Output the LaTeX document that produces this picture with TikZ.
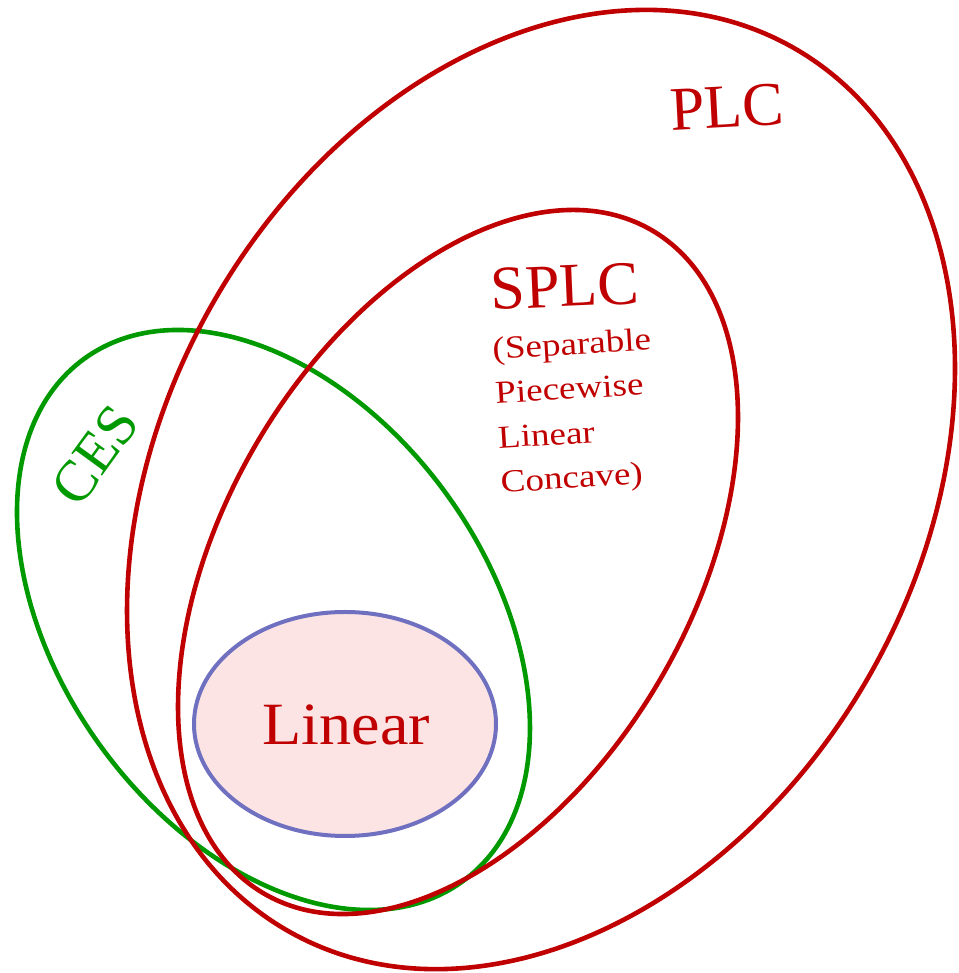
\documentclass[tikz,border=0pt]{standalone}
\usepackage{fontspec}
\setmainfont{Liberation Serif}
\usetikzlibrary{shapes.geometric}

\definecolor{setred}{HTML}{C00000}
\definecolor{setgreen}{HTML}{009A00}
\definecolor{setblue}{HTML}{7070C0}
\definecolor{setpink}{HTML}{FDE4E4}

\begin{document}
\begin{tikzpicture}[x=1pt,y=1pt,
  setline/.style={line width=4.6pt},
  biglabel/.style={inner sep=0pt, font=\fontsize{62}{62}\selectfont},
  sublabel/.style={inner sep=0pt, align=left, font=\fontsize{32}{44.5}\selectfont},
]
\useasboundingbox (0,0) rectangle (958,973);

% centres of the set outlines
\coordinate (cesc)  at (273.5,353);
\coordinate (plcc)  at (541,483.5);
\coordinate (splcc) at (458,411);

% CES
\draw[setline, setgreen, rotate around={-54.15:(cesc)}]
  (cesc) ellipse [x radius=322.6pt, y radius=214pt];

% PLC
\draw[setline, setred, rotate around={60.1:(plcc)}]
  (plcc) ellipse [x radius=508.8pt, y radius=377.4pt];

% SPLC
\draw[setline, setred, rotate around={59.65:(splcc)}]
  (splcc) ellipse [x radius=384.2pt, y radius=233.8pt];

% Linear
\node[ellipse, draw=setblue, line width=4pt, fill=setpink,
      minimum width=302pt, minimum height=224pt, inner sep=0pt]
  (linear) at (345,249) {};
\node[biglabel, font=\fontsize{60}{60}\selectfont, text=setred]
  (lineartext) at (346.5,248) {\scalebox{1.07}[1]{Linear}};

% labels
\node[biglabel, text=setred, rotate=3] (plctext) at (727,866) {PLC};
\node[biglabel, text=setred, rotate=2.5] (splctext) at (565,686.5) {SPLC};
\node[sublabel, text=setred, rotate=3.5] (splcsub) at (576,559.5)
  {\scalebox{1.16}[1]{(Separable}\\\scalebox{1.16}[1]{Piecewise}\\
   \scalebox{1.16}[1]{Linear}\\\scalebox{1.16}[1]{Concave)}};
\node[biglabel, font=\fontsize{58}{58}\selectfont, text=setgreen, rotate=54]
  (cestext) at (95,518) {CES};
\end{tikzpicture}
\end{document}
